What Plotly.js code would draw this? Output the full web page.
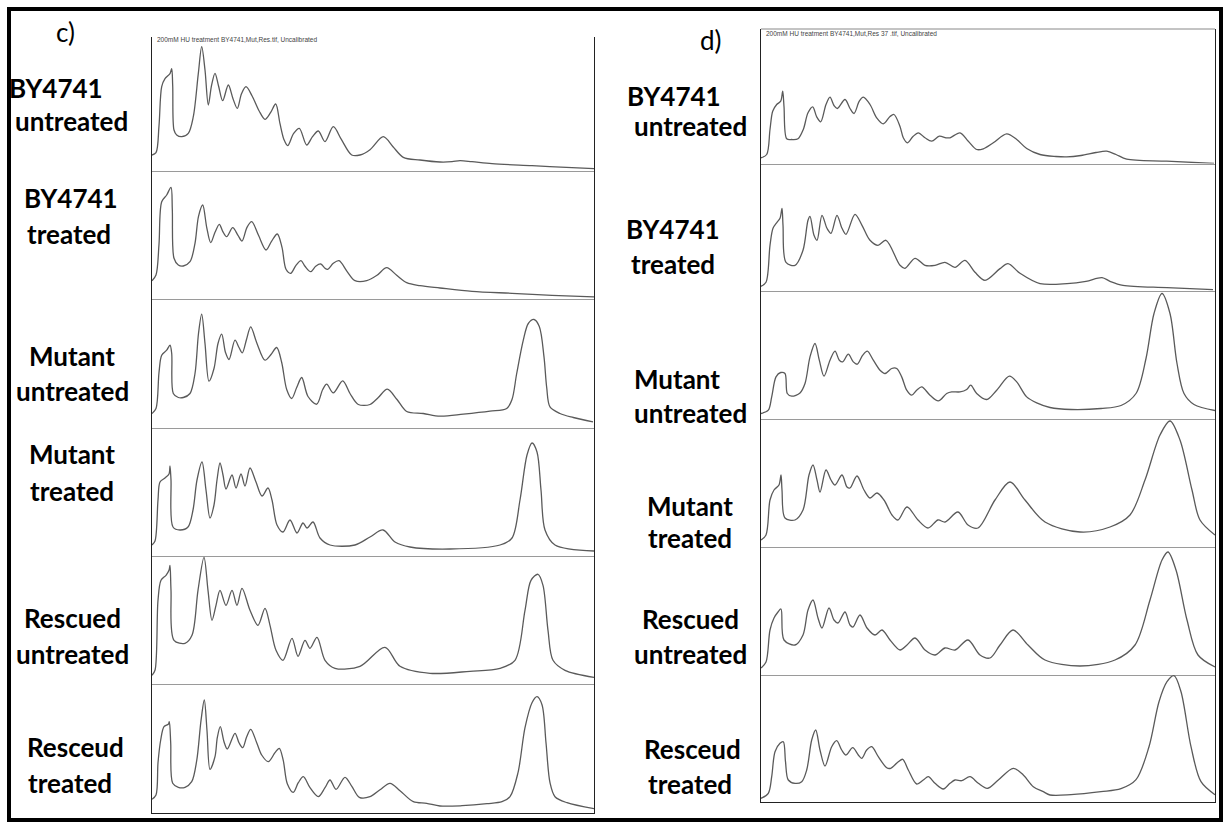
<!DOCTYPE html>
<html><head><meta charset="utf-8">
<script src="https://cdn.plot.ly/plotly-3.0.1.min.js"></script>
<style>html,body{margin:0;padding:0;background:#fff}#chart{width:1226px;height:825px}</style>
</head><body><div id="chart"></div>
<script>
// ---- Panel c) profiles (x = distance along lane, y = density above baseline) ----
const c_by_untr_x = [0,4,7,9.7,13,18,19.7,20.7,22,24.7,29.7,36.3,41.3,46.3,49.7,53,56.3,59.5,63,66.5,70.7,76.3,81,85.3,89.5,94,100,107,113,118.5,123.7,128,132,135.7,141.5,147.3,154.7,160.5,166.3,173,181.3,189.5,199.7,208,218,231.3,241,251.3,268,288,300,308,320,340,380,420,442];
const c_by_untr_y = [15.7,18,45,84,92,97,102,85,40.7,35.7,34,37.4,54,97,124,100.7,65.7,85,97.4,85,70,85.7,72,62.4,77,84,75,60,51.4,58,66.7,47,31,25,37,42.4,25.7,34,39.7,29,44,31,15.7,15.7,21,34,24,13.4,10.7,8.7,9,10,9,7,5,3,2];

const c_by_tr_x = [0,4,7,9.7,14.7,19,20.3,22,26.3,31.3,38,43,46.5,50.7,54.7,58.7,63,67.3,70.7,74.7,80.7,86,90,95,99.7,106.5,114,119.5,125.3,130,134,138.7,144,149,153,158.7,163.7,168.7,173,175.7,181.3,187,195,203,214.7,225,234.7,244.7,254.7,268,288,320,360,400,442];
const c_by_tr_y = [18.6,24.3,55,97.6,104.3,112,90,41,34.3,33.3,37.6,56,83,94.3,72,56.6,67,75,68,62.6,71.6,64,58.3,72,77.6,64,49.3,58,65.3,52,30,26,34,38.6,33,27.6,33,35.3,31,30,36,38.6,28,18.6,18.6,24,31.6,24,16.6,13.6,11.3,8,6,4,2.5];

const c_mut_untr_x = [0,4,7,9.7,14.7,18,19.7,21.3,26.3,31.3,38,43,46.5,49.7,53,57,62,66,69.7,73.5,77,83,87,90.3,94.5,98.7,105,113,119,124.7,129.7,134.7,139.7,144.7,149.7,156,164.7,170.7,174.7,181.3,190.7,198,206.3,218,226.3,235.3,245,254.7,271.3,288,311.3,338,354.7,360,364.7,371.3,376.3,382,387.3,392,394.7,398,408,421.3,441];
const c_mut_untr_y = [14,19,55,72.3,77.3,82.3,74,34,30,30,34,54,94,113.3,84,46.3,59,84,93.3,75,68,87.3,80,74.6,88,100.6,84,67.3,73,80,65,38,29,40,50,31,23.3,38,43.3,34.6,46.6,34,23,23,30,38.3,28,16,14,11.3,13.3,16.3,19,28,54,87.3,104,108,101,70.6,40,20.6,14,10,5.6];

const c_mut_tr_x = [0,3,6,8,13,17,18,19,21,28,36,41,45,50,54,58,62,65,68,71,74,80,84,89,93,98,104,110,116,120,125,131,138,145,151,155,161,168,178,203,218,231,243,258,298,348,360,368,375,380,385,389,393,403,442];
const c_mut_tr_y = [11,15,56,74,78,82,90,76,29,26,29,46,76,94,66,38,51,76,93,81,67,81,68,82,70,88,74,60,68,56,31,24,36,23,33,28,34,18,11,11,19,26,14,9,7,11,18,56,101,113,104,66,26,11,5];

const c_res_untr_x = [0,3,6,9,14,17,18,19,22,33,40,46,52,56,60,64,68,74,80,85,90,98,106,113,118,124,131,140,146,153,158,165,173,183,208,233,248,278,318,348,363,373,379,386,391,396,401,413,442];
const c_res_untr_y = [9,14,84,104,109,114,119,94,44,41,49,94,127,94,64,79,94,79,94,79,96,74,59,76,59,34,24,46,28,44,36,47,24,16,18,37,18,11,13,16,24,74,104,110,99,54,24,14,7];

const c_res_tr_x = [0,4,6,8.7,12,16.3,17.3,18.7,20.7,26.3,33,39.7,44.7,49,52.3,55,58,63,65.3,68.3,72,75.3,83,87,90.7,94.7,98.7,104.7,109.7,116.3,123,127.3,131.3,135.3,141.3,146.3,151.3,158,166.3,173,178,184,193,200,207.3,218,228,238,248,261.3,274.7,288,310,335,350,358,366,373,380,385,390,394,398,403,415,442];
const c_res_tr_y = [13.4,17.7,50,72.7,86,88.4,91,70,29.4,25.4,25.4,31,52,92,112.7,82,43.4,56,75,86,71,63.7,79.4,70,65,76,83.4,70,57.7,51,60,64.4,52,29,20.4,30,36,25,16,25,32.7,23.4,35.4,26,15.4,16,23,29.4,22,11,9.4,6.7,7,9,11,16,40,85,110,116,108,70,30,16,10,4];

// ---- Panel d) profiles ----
const d_by_untr_x = [0,5.7,9,11.7,15.7,19.7,21.7,23,25.7,30.7,37,42.3,47,51.7,55.7,59.7,65,69,73,76.3,84,89,93,98.3,102.3,109,115.7,122.3,129,133,139,142.3,146.3,152,157.3,164,170.7,178.3,185,189,199,207.3,215.7,222.3,232.3,245.7,255.7,265.7,279,295,305.7,320,335,345.7,355,365.7,405.7,453];
const d_by_untr_y = [5.7,9,34,52.3,59,62.3,72.3,57,24.7,24,24.7,34,50.7,56.7,46.7,41.7,59,66.3,58,55,64,55,50,62.3,66.3,59,45.7,39.7,47,49,37,25.7,20.7,27,30.7,25.7,22.3,27.3,25.7,25.7,30.7,22.3,14,14.7,20.7,29.7,24,15,9,7,6.6,8,11,12.3,9,4.3,2.3,0];

const d_by_tr_x = [0,5,9,12,16,19,21,22,25,34,42,47,49,53,56,61,66,70,76,81,85,94,101,109,117,125,139,144,154,164,174,184,194,204,214,224,239,247,259,279,306,325,341,349,362,406,452];
const d_by_tr_y = [5,9,46,63,69,73,83,66,29,26,41,71,75,56,51,76,63,58,76,63,57,77,66,51,46,51,26,23,33,26,26,29,24,31,19,11,22.7,27.7,18,7.7,7.7,10,13.7,10,6,3.7,1.7];

const d_mut_untr_x = [0,7.3,10.7,15,19.7,24,26.3,30.7,39,44,49,54,58.3,63,69,74,78.3,81.7,87.3,92.3,96.3,101.7,106.3,112.3,119,124,130.7,135.7,140.7,145.7,150.7,155.7,160.7,169,177.3,185.7,190.7,199,205.7,209.7,215.7,225.7,235.7,248.3,255.7,265.7,275.7,289,310,340,360,375,385,393,401,409,416,423,433,454];
const d_mut_untr_y = [5,8.3,21.6,41.6,46,45,25,22.3,25.6,35,61.6,75,58.3,42.3,58.3,67.3,58.3,56.6,64.3,56.6,54.3,63.3,67.3,58.3,48.3,45,50,50,41.6,28.3,23.3,28.3,31.6,23.3,17.6,25,26.6,26.6,29,33.3,25,19,28.3,42.3,36.6,21.6,15.6,11,9,10,13,25,60,105,125,105,55,25,14,8];

const d_mut_tr_x = [0,5,9,13,18,20,21,24,34,42,48,52,56,59,65,70,74,81,86,89,96,103,109,116,123,131,137,146,157,167,177,184,197,207,217,234,249,264,284,319,349,369,384,399,409,419,431,439,454];
const d_mut_tr_y = [7,12,47,57,62,72,57,29,27,37,72,82,67,55,77,67,62,72,60,59,71,57,49,54,47,32,27,40,27,19,27,25,35,22,19,47,65,47,25,15,20,32,67,112,126,107,57,27,12];

const d_res_untr_x = [0,5,9,13,17,20,23,34,42,47,52,57,61,68,73,77,84,89,92,99,106,114,121,129,139,146,154,164,174,184,194,207,219,229,239,252,267,284,319,354,374,389,401,407,415,426,437,454];
const d_res_untr_y = [7,13,45,57,63,66,35,30,40,65,75,57,47,67,55,52,63,50,48,60,47,40,45,35,25,30,37,25,20,27,25,35,20,17,30,45,30,15,9,15,30,75,115,123,105,55,20,8];

const d_res_tr_x = [0,7.3,10.7,14,19,22.3,24.5,27.3,34,40.7,45.7,50.7,54.7,59,64,70.7,75.7,80.7,85,91.7,97.3,100.7,105.7,110.7,117.3,125.7,129.7,137.3,141.7,147.3,155.7,162.3,167.3,174,182.3,189,194,200.7,209,217.3,226.3,237.3,252.3,262.3,272.3,282.3,289,310,340,360,375,388,398,406,413,420,430,440,454];
const d_res_tr_y = [3.4,8.4,25,50,58.4,60,40,21.7,18.4,20,31.7,61.7,71.7,51.7,35.7,55,61,51.7,46.7,54,46.7,43.4,51.7,55,45,34,33.4,40,42.4,31.7,17.7,21.7,25,18.4,12.7,18.4,21.7,21,25,18.4,13.4,21.7,33.4,26.7,15,10,6.7,7,10,13,22,55,100,120,126,110,55,20,7];

// ---- Labels ----
const panelLetters = ["c)", "d)"];
const rowLine1 = ["BY4741","BY4741","Mutant","Mutant","Rescued","Resceud"];
const rowLine2 = ["untreated","treated","untreated","treated","untreated","treated"];
const panelTitles = ["200mM HU treatment BY4741,Mut,Res.tif, Uncalibrated",
                     "200mM HU treatment BY4741,Mut,Res 37 .tif, Uncalibrated"];

// ---- Layout geometry (pixels) ----
const W = 1226, H = 825;
const panels = [
  {x0:152, x1:594, edges:[37,170.7,299.3,427.5,556,684.3,812.7],
   series:[[c_by_untr_x,c_by_untr_y],[c_by_tr_x,c_by_tr_y],[c_mut_untr_x,c_mut_untr_y],[c_mut_tr_x,c_mut_tr_y],[c_res_untr_x,c_res_untr_y],[c_res_tr_x,c_res_tr_y]],
   lab1:[[56,88],[71,198],[72,356],[72,454],[72,618],[75,747]],
   lab2:[[71,121],[69,234],[72,391],[72,491],[72,654],[70,783]],
   letter:[65,32], titlePos:[155,40]},
  {x0:761, x1:1215, edges:[29,163.5,291.3,418.5,547,675,801.7],
   series:[[d_by_untr_x,d_by_untr_y],[d_by_tr_x,d_by_tr_y],[d_mut_untr_x,d_mut_untr_y],[d_mut_tr_x,d_mut_tr_y],[d_res_untr_x,d_res_untr_y],[d_res_tr_x,d_res_tr_y]],
   lab1:[[674,96],[673,229],[677,379],[690,506],[690,619],[692,749]],
   lab2:[[690,126],[673,264],[690,413],[690,538],[690,654],[690,784]],
   letter:[711,40], titlePos:[764,33]}
];
const fy = p => 1 - p / H;
const fx = p => p / W;

const data = [];
const layout = {
  width: W, height: H, margin:{l:0,r:0,t:0,b:0},
  paper_bgcolor:'#fff', plot_bgcolor:'rgba(0,0,0,0)', showlegend:false,
  annotations:[], shapes:[]
};
let k = 0;
panels.forEach((P, pi) => {
  for (let i = 0; i < 6; i++) {
    k++;
    const xa = 'xaxis' + (k === 1 ? '' : k), ya = 'yaxis' + (k === 1 ? '' : k);
    const xr = 'x' + (k === 1 ? '' : k), yr = 'y' + (k === 1 ? '' : k);
    const top = P.edges[i], bot = P.edges[i+1];
    layout[xa] = {domain:[fx(P.x0), fx(P.x1)], range:[0, P.x1 - P.x0], anchor:yr,
      showgrid:false, zeroline:false, showticklabels:false, ticks:'',
      showline:true, linecolor: i === 5 ? '#222' : '#9a9a9a', linewidth:1, fixedrange:true};
    layout[ya] = {domain:[fy(bot), fy(top)], range:[0, bot - top], anchor:xr,
      showgrid:false, zeroline:false, showticklabels:false, ticks:'',
      showline:true, linecolor:'#222', linewidth:1, mirror:true, fixedrange:true};
    data.push({x:P.series[i][0], y:P.series[i][1], xaxis:xr, yaxis:yr, type:'scatter', mode:'lines',
      line:{color:'#5a5a5a', width:1.3, shape:'spline', smoothing:0.9}, hoverinfo:'skip'});
    layout.annotations.push({xref:'paper', yref:'paper', x:fx(P.lab1[i][0]), y:fy(P.lab1[i][1]),
      text:rowLine1[i], showarrow:false, xanchor:'center', yanchor:'middle',
      font:{family:'Lato, "Open Sans", sans-serif', size:26, color:'#000', weight:700}});
    layout.annotations.push({xref:'paper', yref:'paper', x:fx(P.lab2[i][0]), y:fy(P.lab2[i][1]),
      text:rowLine2[i], showarrow:false, xanchor:'center', yanchor:'middle',
      font:{family:'Lato, "Open Sans", sans-serif', size:26, color:'#000', weight:700}});
  }
  layout.annotations.push({xref:'paper', yref:'paper', x:fx(P.letter[0]), y:fy(P.letter[1]),
    text:panelLetters[pi], showarrow:false, xanchor:'center', yanchor:'middle',
    font:{family:'Lato, "Open Sans", sans-serif', size:26, color:'#000'}});
  layout.annotations.push({xref:'paper', yref:'paper', x:fx(P.titlePos[0]), y:fy(P.titlePos[1]),
    text:panelTitles[pi], showarrow:false, xanchor:'left', yanchor:'middle',
    font:{family:'"Liberation Sans", Arial, sans-serif', size:6.5, color:'#444'}});
});
// right panel top edge
layout.shapes.push({type:'line', xref:'paper', yref:'paper', x0:fx(761), x1:fx(1215), y0:fy(29), y1:fy(29), line:{color:'#888', width:1}});
// outer frame
layout.shapes.push({type:'rect', xref:'paper', yref:'paper', x0:fx(9), x1:fx(1221), y0:fy(820), y1:fy(9), line:{color:'#000', width:4}});

Plotly.newPlot('chart', data, layout, {staticPlot:true, displayModeBar:false});
</script></body></html>
